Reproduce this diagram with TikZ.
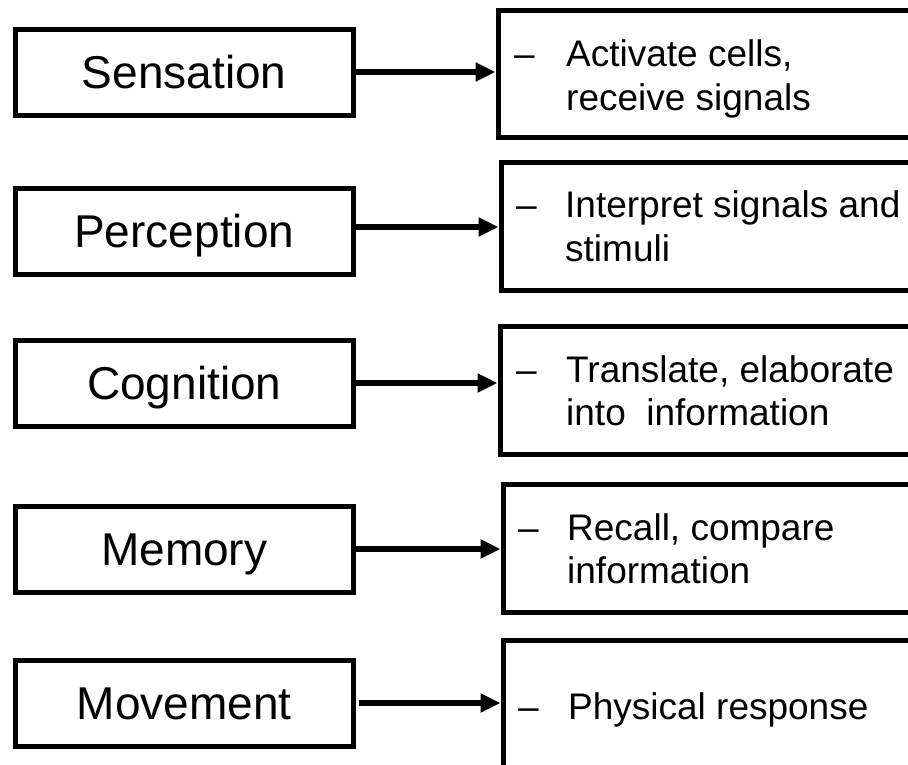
\documentclass[tikz,border=0pt]{standalone}
\usepackage{fontspec}
\setmainfont{Liberation Sans}
\usetikzlibrary{arrows.meta}
\begin{document}
\begin{tikzpicture}[x=1pt,y=-1pt,
  stagebox/.style={draw=black, line width=5pt, rectangle, inner sep=0pt,
    minimum width=337.5pt, minimum height=86pt,
    font=\fontsize{46}{52}\selectfont, text height=33pt, text depth=0pt},
  notebox/.style={draw=black, line width=5pt, rectangle, inner sep=0pt,
    minimum width=600pt, minimum height=128pt, anchor=west},
  notetext/.style={anchor=base west, inner sep=0pt,
    font=\fontsize{37}{44}\selectfont},
  flow/.style={line width=5.5pt, -{Triangle[length=20pt,width=18pt]}}
]
\useasboundingbox (0,0) rectangle (908,764);
\clip (0,0) rectangle (908,764);

% stages on the left
\node[stagebox] (sens) at (184.25,72)  {Sensation};
\node[stagebox] (perc) at (184.25,231) {Perception};
\node[stagebox] (cogn) at (184.25,383) {Cognition};
\node[stagebox] (memo) at (184.25,549) {Memory};
\node[stagebox] (move) at (184.25,703) {Movement};

% description boxes on the right (running past the right edge)
\node[notebox, minimum height=127pt] (dsens) at (495.5,74)  {};
\node[notebox] (dperc) at (498.5,226.5) {};
\node[notebox] (dcogn) at (497.5,390)   {};
\node[notebox] (dmemo) at (500.5,548.5) {};
\node[notebox] (dmove) at (500.5,704.5) {};

% descriptions
\node[notetext] (ks1) at (514,66)  {–};
\node[notetext] (ts1) at (566,66)  {Activate cells,};
\node[notetext] (ts2) at (566,110) {receive signals};

\node[notetext] (kp1) at (516,217) {–};
\node[notetext] (tp1) at (565,217) {Interpret signals and};
\node[notetext] (tp2) at (565,261) {stimuli};

\node[notetext] (kc1) at (516,382) {–};
\node[notetext] (tc1) at (566,382) {Translate, elaborate};
\node[notetext] (tc2) at (566,425) {into\ \ information};

\node[notetext] (km1) at (518,540) {–};
\node[notetext] (tm1) at (567,540) {Recall, compare};
\node[notetext] (tm2) at (567,583) {information};

\node[notetext] (kv1) at (518,719) {–};
\node[notetext] (tv1) at (568,719) {Physical response};

% connectors
\draw[flow] (sens.east) -- (sens.east -| dsens.west);
\draw[flow] ([yshift=4pt]perc.east) -- ([yshift=4pt]perc.east -| dperc.west);
\draw[flow] (cogn.east) -- (cogn.east -| dcogn.west);
\draw[flow] (memo.east) -- (memo.east -| dmemo.west);
\draw[flow, shorten <=3pt] (move.east) -- (move.east -| dmove.west);
\end{tikzpicture}
\end{document}
